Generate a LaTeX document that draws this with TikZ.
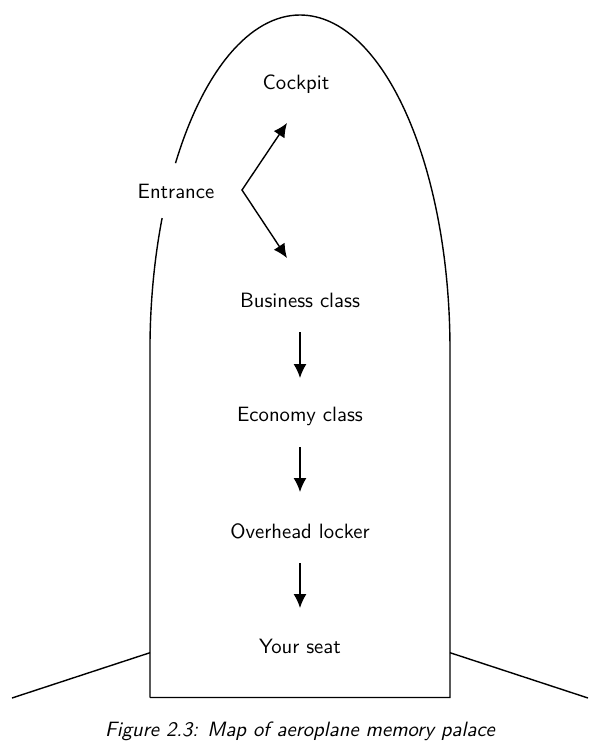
\documentclass[tikz,border=0pt]{standalone}
\usepackage{tikz}
\usetikzlibrary{arrows.meta}
\renewcommand{\familydefault}{\sfdefault}
\newcommand{\placefont}{\sffamily\fontsize{10.35pt}{12pt}\selectfont}
\tikzset{
  place/.style={font=\placefont, text height=1.5ex, text depth=.25ex},
  arrow/.style={-{Latex[length=7pt,width=6.5pt]}, line width=0.7pt},
  twoarrow/.style={{Latex[length=7pt,width=6.5pt]}-{Latex[length=7pt,width=6.5pt]}, line width=0.7pt},
  hull/.style={line width=0.7pt}
}

\begin{document}
\begin{tikzpicture}[x=0.5pt, y=-0.5pt]
  \useasboundingbox (0,0) rectangle (606,751);

  % Fuselage
  \draw[hull] (150,697.5) -- (450,697.5) -- (450,350)
    arc[start angle=0, end angle=-146.1, x radius=150, y radius=335];
  \draw[hull] (162.1,218.1)
    arc[start angle=-156.8, end angle=-180, x radius=150, y radius=335]
    -- (150,697.5);

  % Wings
  \draw[hull] (150,652.7) -- (12,698);
  \draw[hull] (450,652.7) -- (588,698);

  % Places
  \node[place] (cockpit) at (296,84) {Cockpit};
  \node[place] (entrance) at (176,193) {Entrance};
  \node[place] (business) at (300,302) {Business class};
  \node[place] (economy) at (300,416) {Economy class};
  \node[place] (locker) at (300,533) {Overhead locker};
  \node[place] (seat) at (300,648) {Your seat};

  % Entrance fork
  \coordinate (fork) at (242,190);
  \coordinate (fwd) at (287,123);
  \coordinate (aft) at (287,258);
  \draw[twoarrow] (fwd) -- (fork) -- (aft);

  % Walk down the aisle
  \draw[arrow, shorten <=15pt, shorten >=19pt] (business.center) -- (economy.center);
  \draw[arrow, shorten <=15.5pt, shorten >=20.5pt] (economy.center) -- (locker.center);
  \draw[arrow, shorten <=15pt, shorten >=20pt] (locker.center) -- (seat.center);

  % Caption
  \node[font=\placefont\itshape] (caption) at (300,731) {Figure 2.3: Map of aeroplane memory palace};
\end{tikzpicture}
\end{document}
